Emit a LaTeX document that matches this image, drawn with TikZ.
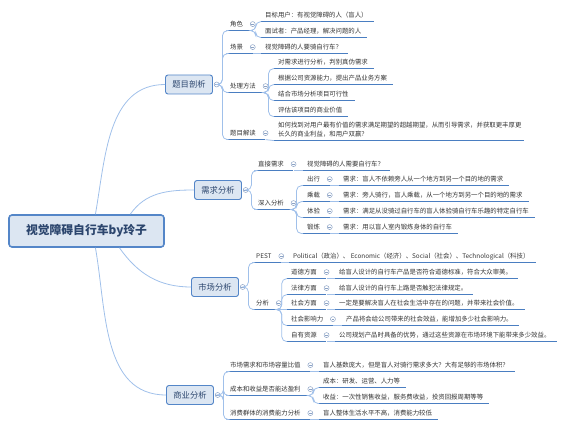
\documentclass[tikz,border=0pt]{standalone}
\usepackage{fontspec}
\setmainfont{Noto Sans CJK SC}
\usetikzlibrary{positioning}

\definecolor{boxfill}{RGB}{220,230,242}
\definecolor{boxline}{RGB}{84,134,200}
\definecolor{titletext}{RGB}{44,70,110}
\definecolor{linkblue}{RGB}{160,192,234}
\definecolor{ulblue}{RGB}{74,126,193}
\definecolor{leaftext}{RGB}{51,51,51}
\definecolor{foldgray}{RGB}{140,163,198}

\tikzset{
  rootbox/.style={draw=boxline, line width=1.6pt, fill=boxfill, rounded corners=3pt,
    minimum width=155pt, minimum height=32pt, text=titletext,
    font=\fontsize{11.8}{12}\selectfont\bfseries},
  mainbox/.style={draw=boxline, line width=0.9pt, fill=boxfill, rounded corners=2.5pt,
    minimum width=47pt, minimum height=19pt, text=titletext,
    font=\fontsize{8.3}{9}\selectfont},
  topic/.style={anchor=base west, inner xsep=4pt, inner ysep=0pt,
    text height=5pt, text depth=4pt, text=leaftext,
    font=\fontsize{6.4}{7}\selectfont},
  ulink/.style={draw=ulblue, line width=1.2pt},
  cat/.style={topic, append after command={(\tikzlastnode.south west)
    edge[ulink] ([xshift=5.3pt]\tikzlastnode.south east)}},
  leaf/.style={topic, append after command={(\tikzlastnode.south west)
    edge[ulink] ([xshift=2pt]\tikzlastnode.south east)}},
  link/.style={draw=linkblue, line width=0.8pt, rounded corners=5pt},
  fold/.style={circle, draw=foldgray, fill=white, line width=0.5pt, inner sep=0pt,
    minimum size=5pt, path picture={\draw[foldgray, line width=0.5pt]
      ([xshift=-1.3pt]path picture bounding box.center) --
      ([xshift=1.3pt]path picture bounding box.center);}},
  catfold/.style={fold, yshift=1.8pt},
}

\begin{document}
\begin{tikzpicture}[x=1pt, y=-1pt]
  \useasboundingbox (0,0) rectangle (565,427);

  % centre and main topics
  \node[rootbox] (bike) at (86.5,231) {视觉障碍自行车by玲子};
  \node[mainbox] (timu) at (189,84.5) {题目剖析};
  \node[mainbox] (xuqiu) at (218,190) {需求分析};
  \node[mainbox] (shichang) at (215,287) {市场分析};
  \node[mainbox] (shangye) at (190,395) {商业分析};
  \node[fold, right=1pt of timu] (timu-f) {};
  \node[fold, right=1pt of xuqiu] (xuqiu-f) {};
  \node[fold, right=1pt of shichang] (shichang-f) {};
  \node[fold, right=1pt of shangye] (shangye-f) {};

  \draw[link] (bike.62) to[out=80,in=180] (timu.west);
  \draw[link] (bike.21) to[out=55,in=180] (xuqiu.west);
  \draw[link] (bike.-27) to[out=-55,in=180] (shichang.west);
  \draw[link] (bike.-62) to[out=-80,in=180] (shangye.west);

  % 题目剖析
  \node[cat] (jiaose) at (226,26.4) {角色};
  \node[catfold, right=2.8pt of jiaose] (jiaose-f) {};
  \node[leaf] (mubiao) at (261,17.4) {目标用户：有视觉障碍的人（盲人）};
  \node[leaf] (mianshi) at (261,33.4) {面试者：产品经理，解决问题的人};
  \node[cat] (changjing) at (226,49.4) {场景};
  \node[catfold, right=2.8pt of changjing] (changjing-f) {};
  \node[leaf] (qiche) at (261,49.4) {视觉障碍的人要骑自行车？};
  \node[cat] (chuli) at (226,88.4) {处理方法};
  \node[catfold, right=2.8pt of chuli] (chuli-f) {};
  \node[leaf] (panbie) at (274,64.4) {对需求进行分析，判别真伪需求};
  \node[leaf] (fangan) at (274,80.4) {根据公司资源能力，提出产品业务方案};
  \node[leaf] (kexing) at (274,96.4) {结合市场分析项目可行性};
  \node[leaf] (jiazhi) at (274,112.4) {评估该项目的商业价值};
  \node[cat] (jiedu) at (226,135.4) {题目解读};
  \node[catfold, right=2.8pt of jiedu] (jiedu-f) {};
  \node[leaf] (shuangying) at (274,136.4) {\parbox[b]{240pt}{\baselineskip=8.7pt
    如何找到对用户最有价值的需求满足期望的超越期望，从而引导需求，并获取更丰厚更\\
    长久的商业利益，和用户双赢？}};

  \draw[link] (timu-f.east) -- ++(3,0) |- (jiaose.south west);
  \draw[link] (timu-f.east) -- ++(3,0) |- (changjing.south west);
  \draw[link] (timu-f.east) -- ++(3,0) |- (chuli.south west);
  \draw[link] (timu-f.east) -- ++(3,0) |- (jiedu.south west);
  \draw[link] (jiaose-f |- jiaose.south) -- ++(3,0) |- (mubiao.south west);
  \draw[link] (jiaose-f |- jiaose.south) -- ++(3,0) |- (mianshi.south west);
  \draw[link] (changjing-f |- changjing.south) -- (qiche.south west);
  \draw[link] (chuli-f |- chuli.south) -- ++(3,0) |- (panbie.south west);
  \draw[link] (chuli-f |- chuli.south) -- ++(3,0) |- (fangan.south west);
  \draw[link] (chuli-f |- chuli.south) -- ++(3,0) |- (kexing.south west);
  \draw[link] (chuli-f |- chuli.south) -- ++(3,0) |- (jiazhi.south west);
  \draw[link] (jiedu-f |- jiedu.south) -- (shuangying.south west);

  % 需求分析
  \node[cat] (zhijie) at (254,166.4) {直接需求};
  \node[catfold, right=2.8pt of zhijie] (zhijie-f) {};
  \node[leaf] (xuyao) at (303,166.4) {视觉障碍的人需要自行车？};
  \node[cat] (shenru) at (254,205.4) {深入分析};
  \node[catfold, right=2.8pt of shenru] (shenru-f) {};
  \node[cat] (chuxing) at (303,181.4) {出行};
  \node[catfold, right=2.8pt of chuxing] (chuxing-f) {};
  \node[leaf] (chuxing-x) at (339,181.4) {需求：盲人不依赖旁人从一个地方到另一个目的地的需求};
  \node[cat] (chengzai) at (303,197.4) {乘载};
  \node[catfold, right=2.8pt of chengzai] (chengzai-f) {};
  \node[leaf] (chengzai-x) at (339,197.4) {需求：旁人骑行，盲人乘载，从一个地方到另一个目的地的需求};
  \node[cat] (tiyan) at (303,213.4) {体验};
  \node[catfold, right=2.8pt of tiyan] (tiyan-f) {};
  \node[leaf] (tiyan-x) at (339,213.4) {需求：满足从没骑过自行车的盲人体验骑自行车乐趣的特定自行车};
  \node[cat] (duanlian) at (303,229.4) {锻炼};
  \node[catfold, right=2.8pt of duanlian] (duanlian-f) {};
  \node[leaf] (duanlian-x) at (339,229.4) {需求：用以盲人室内锻炼身体的自行车};

  \draw[link] (xuqiu-f.east) -- ++(3,0) |- (zhijie.south west);
  \draw[link] (xuqiu-f.east) -- ++(3,0) |- (shenru.south west);
  \draw[link] (zhijie-f |- zhijie.south) -- (xuyao.south west);
  \draw[link] (shenru-f |- shenru.south) -- ++(3,0) |- (chuxing.south west);
  \draw[link] (shenru-f |- shenru.south) -- ++(3,0) |- (chengzai.south west);
  \draw[link] (shenru-f |- shenru.south) -- ++(3,0) |- (tiyan.south west);
  \draw[link] (shenru-f |- shenru.south) -- ++(3,0) |- (duanlian.south west);
  \draw[link] (chuxing-f |- chuxing.south) -- (chuxing-x.south west);
  \draw[link] (chengzai-f |- chengzai.south) -- (chengzai-x.south west);
  \draw[link] (tiyan-f |- tiyan.south) -- (tiyan-x.south west);
  \draw[link] (duanlian-f |- duanlian.south) -- (duanlian-x.south west);

  % 市场分析
  \node[cat] (pest) at (252,258.4) {PEST};
  \node[catfold, right=2.8pt of pest] (pest-f) {};
  \node[leaf] (pest-x) at (289,258.4) {Political（政治）、 Economic（经济）、Social（社会）、Technological（科技）};
  \node[cat] (fenxi) at (252,305.4) {分析};
  \node[catfold, right=2.8pt of fenxi] (fenxi-f) {};
  \node[cat] (daode) at (287,274.4) {道德方面};
  \node[catfold, right=2.8pt of daode] (daode-f) {};
  \node[leaf] (daode-x) at (335,274.4) {给盲人设计的自行车产品是否符合道德标准，符合大众审美。};
  \node[cat] (falv) at (287,290.4) {法律方面};
  \node[catfold, right=2.8pt of falv] (falv-f) {};
  \node[leaf] (falv-x) at (335,290.4) {给盲人设计的自行车上路是否触犯法律规定。};
  \node[cat] (shehui) at (287,305.4) {社会方面};
  \node[catfold, right=2.8pt of shehui] (shehui-f) {};
  \node[leaf] (shehui-x) at (335,305.4) {一定是要解决盲人在社会生活中存在的问题，并带来社会价值。};
  \node[cat] (yingxiang) at (287,321.4) {社会影响力};
  \node[catfold, right=2.8pt of yingxiang] (yingxiang-f) {};
  \node[leaf] (yingxiang-x) at (342,321.4) {产品将会给公司带来的社会效益，能增加多少社会影响力。};
  \node[cat] (ziyou) at (287,337.4) {自有资源};
  \node[catfold, right=2.8pt of ziyou] (ziyou-f) {};
  \node[leaf] (ziyou-x) at (335,337.4) {公司规划产品时具备的优势，通过这些资源在市场环境下能带来多少效益。};

  \draw[link] (shichang-f.east) -- ++(3,0) |- (pest.south west);
  \draw[link] (shichang-f.east) -- ++(3,0) |- (fenxi.south west);
  \draw[link] (pest-f |- pest.south) -- (pest-x.south west);
  \draw[link] (fenxi-f |- fenxi.south) -- ++(3,0) |- (daode.south west);
  \draw[link] (fenxi-f |- fenxi.south) -- ++(3,0) |- (falv.south west);
  \draw[link] (fenxi-f |- fenxi.south) -- (shehui.south west);
  \draw[link] (fenxi-f |- fenxi.south) -- ++(3,0) |- (yingxiang.south west);
  \draw[link] (fenxi-f |- fenxi.south) -- ++(3,0) |- (ziyou.south west);
  \draw[link] (daode-f |- daode.south) -- (daode-x.south west);
  \draw[link] (falv-f |- falv.south) -- (falv-x.south west);
  \draw[link] (shehui-f |- shehui.south) -- (shehui-x.south west);
  \draw[link] (yingxiang-f |- yingxiang.south) -- (yingxiang-x.south west);
  \draw[link] (ziyou-f |- ziyou.south) -- (ziyou-x.south west);

  % 商业分析
  \node[cat] (rongliang) at (226,367.4) {市场需求和市场容量比值};
  \node[catfold, right=2.8pt of rongliang] (rongliang-f) {};
  \node[leaf] (rongliang-x) at (319,367.4) {盲人基数庞大，但是盲人对骑行需求多大？大有足够的市场体积？};
  \node[cat] (yingli) at (226,391.4) {成本和收益是否能达盈利};
  \node[catfold, right=2.8pt of yingli] (yingli-f) {};
  \node[leaf] (chengben) at (319,383.4) {成本：研发、运营、人力等};
  \node[leaf] (shouyi) at (319,399.4) {收益：一次性销售收益，服务费收益，投资回报周期等等};
  \node[cat] (xiaofei) at (226,415.4) {消费群体的消费能力分析};
  \node[catfold, right=2.8pt of xiaofei] (xiaofei-f) {};
  \node[leaf] (xiaofei-x) at (319,415.4) {盲人整体生活水平不高，消费能力较低};

  \draw[link] (shangye-f.east) -- ++(3,0) |- (rongliang.south west);
  \draw[link] (shangye-f.east) -- ++(3,0) |- (yingli.south west);
  \draw[link] (shangye-f.east) -- ++(3,0) |- (xiaofei.south west);
  \draw[link] (rongliang-f |- rongliang.south) -- (rongliang-x.south west);
  \draw[link] (yingli-f |- yingli.south) -- ++(3,0) |- (chengben.south west);
  \draw[link] (yingli-f |- yingli.south) -- ++(3,0) |- (shouyi.south west);
  \draw[link] (xiaofei-f |- xiaofei.south) -- (xiaofei-x.south west);
\end{tikzpicture}
\end{document}
